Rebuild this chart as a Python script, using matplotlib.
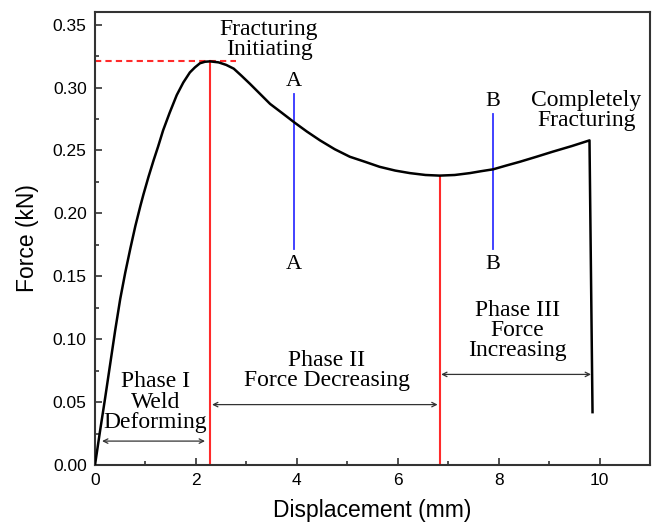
import numpy as np
import matplotlib.pyplot as plt
from matplotlib.ticker import MultipleLocator

# force-displacement curve
disp = [0.0, 0.10, 0.20, 0.30, 0.40, 0.50, 0.60, 0.70, 0.80, 0.90, 0.96,
        1.06, 1.16, 1.25, 1.35, 1.48, 1.62, 1.75, 1.88, 1.98, 2.08, 2.18, 2.28,
        2.45, 2.60, 2.75, 2.90, 3.07, 3.27, 3.47, 3.70, 3.96, 4.20, 4.46, 4.75,
        5.05, 5.35, 5.64, 5.95, 6.24, 6.55, 6.83, 7.13, 7.43, 7.65, 7.89, 8.15,
        8.42, 8.75, 9.07, 9.45, 9.80, 9.86]
force = [0.0, 0.027, 0.053, 0.080, 0.107, 0.132, 0.153, 0.172, 0.190, 0.206, 0.215,
         0.229, 0.242, 0.253, 0.266, 0.280, 0.294, 0.304, 0.312, 0.316, 0.3193, 0.3205, 0.3208,
         0.320, 0.318, 0.315, 0.3095, 0.303, 0.295, 0.287, 0.280, 0.272, 0.265, 0.258, 0.251,
         0.245, 0.241, 0.237, 0.234, 0.232, 0.2305, 0.230, 0.2305, 0.232, 0.2335, 0.235, 0.238,
         0.241, 0.245, 0.249, 0.2535, 0.258, 0.042]

peak_x, peak_y = 2.28, 0.3208
min_x, min_y = 6.83, 0.230
dash_end = 2.80
sections = {'A': (3.95, 0.172, 0.295), 'B': (7.88, 0.172, 0.279)}
phase_arrows = [(0.14, 2.18, 0.019), (2.32, 6.79, 0.048), (6.86, 9.83, 0.072)]

serif = 'Liberation Serif'
plt.rcParams['font.family'] = 'Liberation Sans'

fig = plt.figure(figsize=(6.52, 5.24), dpi=100)
ax = fig.add_axes([0.1457, 0.1126, 0.8513, 0.8644])

ax.plot(disp, force, color='black', lw=1.8, zorder=3, solid_joinstyle='round')

# red marker lines
ax.plot([peak_x, peak_x], [0, peak_y], color='#ff2a2a', lw=1.5, zorder=2)
ax.plot([min_x, min_x], [0, min_y], color='#ff2a2a', lw=1.5, zorder=2)
ax.plot([0, dash_end], [peak_y, peak_y], color='#ff2a2a', lw=1.5, ls=(0, (3, 2)), zorder=2)

# section lines A-A, B-B
for name, (sx, y0, y1) in sections.items():
    ax.plot([sx, sx], [y0, y1], color='#3333ff', lw=1.3, zorder=2)
    ax.text(sx, y1 + 0.010, name, family=serif, fontsize=16, ha='center', va='center')
    ax.text(sx, y0 - 0.013, name, family=serif, fontsize=16, ha='center', va='center')

for x0, x1, y in phase_arrows:
    ax.annotate('', xy=(x1, y), xytext=(x0, y),
                arrowprops=dict(arrowstyle='<->', lw=0.9, color='#333333',
                                shrinkA=0, shrinkB=0, mutation_scale=8))

fs = 17
ls = 0.95
ax.text(3.45, 0.338, 'Fracturing\nInitiating', family=serif, fontsize=fs,
        ha='center', va='center', linespacing=ls)
ax.text(9.74, 0.282, 'Completely\nFracturing', family=serif, fontsize=fs,
        ha='center', va='center', linespacing=ls)
ax.text(1.2, 0.050, 'Phase I\nWeld\nDeforming', family=serif, fontsize=fs,
        ha='center', va='center', linespacing=ls)
ax.text(4.59, 0.075, 'Phase II\nForce Decreasing', family=serif, fontsize=fs,
        ha='center', va='center', linespacing=ls)
ax.text(8.37, 0.107, 'Phase III\nForce\nIncreasing', family=serif, fontsize=fs,
        ha='center', va='center', linespacing=ls)

ax.set_xlim(0, 11)
ax.set_ylim(0, 0.36)
ax.xaxis.set_major_locator(MultipleLocator(2))
ax.xaxis.set_minor_locator(MultipleLocator(1))
ax.yaxis.set_major_locator(MultipleLocator(0.05))
ax.yaxis.set_minor_locator(MultipleLocator(0.025))
ax.yaxis.set_major_formatter(lambda v, p: f'{v:.2f}')
ax.tick_params(which='both', direction='in', top=False, right=False,
               labelsize=12.5, width=1.2, color='#333333')
ax.tick_params(which='major', length=5, pad=6)
ax.tick_params(which='minor', length=3)
for s in ax.spines.values():
    s.set_linewidth(1.5)
    s.set_color('#333333')

ax.set_xlabel('Displacement (mm)', fontsize=16.5, labelpad=8)
ax.set_ylabel('Force (kN)', fontsize=16.5, labelpad=10)

fig.savefig('out.png', dpi=100)
